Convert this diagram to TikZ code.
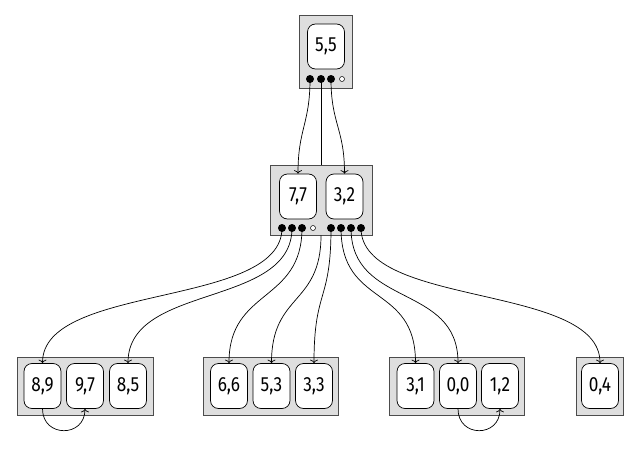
\documentclass[tikz,border=0pt]{standalone}
\usepackage{fontspec}
\setmainfont{Fira Sans}[FakeStretch=0.84]
\usetikzlibrary{arrows.meta}
\tikzset{
  boxn/.style={draw=black!70, fill=black!13, line width=0.8pt, inner sep=0pt},
  keyn/.style={draw=black, fill=white, rounded corners=8pt, minimum width=37pt,
    minimum height=45pt, inner sep=0pt, line width=0.7pt,
    font=\fontsize{20.5}{20.5}\selectfont},
  bdot/.style={circle, fill=black, inner sep=0pt, minimum size=8pt},
  wdot/.style={circle, draw=black, fill=white, inner sep=0pt, minimum size=5pt, line width=0.5pt},
  link/.style={line width=0.7pt, -{To[length=3.5pt,width=8pt]}},
  plain/.style={line width=0.7pt}
}
\begin{document}
\begin{tikzpicture}[x=1pt,y=-1pt]
\useasboundingbox (0,0) rectangle (643,455);
% boxes
\node[boxn, minimum width=53pt, minimum height=73pt] (top) at (325.5,51.5) {};
\node[boxn, minimum width=102pt, minimum height=70pt] (mid) at (321,200) {};
\node[boxn, minimum width=136pt, minimum height=58pt] (L1) at (85,386) {};
\node[boxn, minimum width=135pt, minimum height=58pt] (L2) at (271,386) {};
\node[boxn, minimum width=135pt, minimum height=58pt] (L3) at (457,386) {};
\node[boxn, minimum width=47pt, minimum height=58pt] (L4) at (600,386) {};
% keys
\node[keyn] (k55) at (326,46.5) {5,5};
\node[keyn] (k77) at (298,196.5) {7,7};
\node[keyn] (k32) at (344.5,196.5) {3,2};
\node[keyn] (k89) at (42.5,386) {8,9};
\node[keyn] (k97) at (85,386) {9,7};
\node[keyn] (k85) at (128,386) {8,5};
\node[keyn] (k66) at (229,386) {6,6};
\node[keyn] (k53) at (271.5,386) {5,3};
\node[keyn] (k33) at (314,386) {3,3};
\node[keyn] (k31) at (415.5,386) {3,1};
\node[keyn] (k00) at (458,386) {0,0};
\node[keyn] (k12) at (500,386) {1,2};
\node[keyn] (k04) at (600,386) {0,4};
% dot positions
\coordinate (d1) at (310,79);
\coordinate (d2) at (321,79);
\coordinate (d3) at (331,79);
\coordinate (m1) at (282,228);
\coordinate (m2) at (292,228);
\coordinate (m3) at (302,228);
\coordinate (m5) at (331,228);
\coordinate (m6) at (341,228);
\coordinate (m7) at (351,228);
\coordinate (m8) at (361,228);
% top connectors
\draw[link] (d1) .. controls +(0,45) and +(0,-45) .. (k77.north);
\draw[plain] (d2) -- (mid.north);
\draw[link] (d3) .. controls +(0,45) and +(0,-45) .. (k32.north);
% middle connectors
\draw[link] (m1) .. controls +(0,80) and +(0,-80) .. (k89.north);
\draw[link] (m2) .. controls +(0,80) and +(0,-80) .. (k85.north);
\draw[link] (m3) .. controls +(0,75) and +(0,-75) .. (k66.north);
\draw[link] (mid.south) .. controls +(0,70) and +(0,-70) .. (k53.north);
\draw[link] (m5) .. controls +(0,75) and +(0,-75) .. (k33.north);
\draw[link] (m6) .. controls +(0,80) and +(0,-80) .. (k31.north);
\draw[link] (m7) .. controls +(0,80) and +(0,-80) .. (k00.north);
\draw[link] (m8) .. controls +(0,80) and +(0,-80) .. (k04.north);
% in-leaf connectors
\draw[link] (k89.south) .. controls +(0,29) and +(0,29) .. (k97.south);
\draw[link] (k00.south) .. controls +(0,29) and +(0,29) .. (k12.south);
% dots
\node[bdot] (t1) at (d1) {};
\node[bdot] (t2) at (d2) {};
\node[bdot] (t3) at (d3) {};
\node[wdot] (t4) at (342,79) {};
\node[bdot] (n1) at (m1) {};
\node[bdot] (n2) at (m2) {};
\node[bdot] (n3) at (m3) {};
\node[wdot] (n4) at (313,228) {};
\node[bdot] (n5) at (m5) {};
\node[bdot] (n6) at (m6) {};
\node[bdot] (n7) at (m7) {};
\node[bdot] (n8) at (m8) {};
\end{tikzpicture}
\end{document}
